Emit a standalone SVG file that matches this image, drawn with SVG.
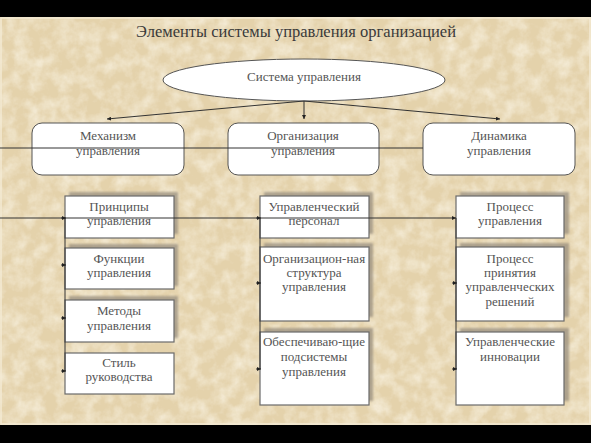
<svg xmlns="http://www.w3.org/2000/svg" width="591" height="443" viewBox="0 0 591 443">
<defs>
<filter id="paper" x="0" y="0" width="100%" height="100%">
<feTurbulence type="fractalNoise" baseFrequency="0.07" numOctaves="4" seed="7" result="n"/>
<feColorMatrix in="n" type="matrix" values="0 0 0 0 0.96  0 0 0 0 0.91  0 0 0 0 0.79  0 0 0 -1.3 0.85" result="c"/>
<feComposite in="c" in2="SourceGraphic" operator="in"/>
</filter>
<filter id="blur" x="-10%" y="-10%" width="120%" height="120%"><feGaussianBlur stdDeviation="0.8"/></filter>
<marker id="ah" viewBox="0 0 6 6" refX="6" refY="3" markerWidth="4" markerHeight="4" orient="auto" markerUnits="userSpaceOnUse"><path d="M0,0 L6,3 L0,6 z" fill="#222"/></marker>
</defs>
<style>
text{font-family:"Liberation Serif","DejaVu Serif","Times New Roman",serif}
.t{fill:#555;font-size:13px;text-anchor:middle}
.title{fill:#3a3a3a;font-size:16.5px;text-anchor:middle}
.top{fill:#fff;stroke:#555;stroke-width:1}
.box{fill:#fff;stroke:#6a6a6a;stroke-width:1.2}
.sh{fill:#9a9080;opacity:.75;filter:url(#blur)}
.ln{stroke:#333;stroke-width:1;fill:none}
</style>
<rect x="0" y="0" width="591" height="443" fill="#000"/>
<rect x="0" y="17" width="591" height="408" fill="#e4d2ab"/>
<rect x="0" y="17" width="591" height="408" fill="#e4d2ab" filter="url(#paper)"/>
<rect x="1" y="18" width="589" height="406" fill="none" stroke="#f3ead4" stroke-width="1.5"/>
<text class="title" x="296" y="37">Элементы системы управления организацией</text>

<g id="sistema">
<ellipse cx="304" cy="80" rx="141" ry="21" class="top"/>
<text class="t" x="304" y="81">Система управления</text>
</g>

<g id="mekhanizm">
<rect x="32" y="123" width="152" height="52" rx="10" class="top"/>
<text class="t" x="108" y="140">Механизм</text>
<text class="t" x="108" y="155">управления</text>
</g>
<g id="organizatsiya">
<rect x="228" y="123" width="151" height="52" rx="10" class="top"/>
<text class="t" x="303" y="140">Организация</text>
<text class="t" x="303" y="155">управления</text>
</g>
<g id="dinamika">
<rect x="423" y="123" width="152" height="52" rx="10" class="top"/>
<text class="t" x="499" y="140">Динамика</text>
<text class="t" x="499" y="155">управления</text>
</g>

<g id="printsipy">
<rect x="69" y="192" width="109" height="42" class="sh"/>
<rect x="65" y="196" width="109" height="42" class="box"/>
<text class="t" x="119" y="211">Принципы</text>
<text class="t" x="119" y="225">управления</text>
</g>
<g id="funktsii">
<rect x="69" y="244" width="109" height="42" class="sh"/>
<rect x="65" y="248" width="109" height="41" class="box"/>
<text class="t" x="119" y="263">Функции</text>
<text class="t" x="119" y="277">управления</text>
</g>
<g id="metody">
<rect x="69" y="296" width="109" height="42" class="sh"/>
<rect x="65" y="300" width="109" height="42" class="box"/>
<text class="t" x="119" y="315">Методы</text>
<text class="t" x="119" y="330">управления</text>
</g>
<g id="stil">
<rect x="65" y="353" width="109" height="41" class="box"/>
<text class="t" x="119" y="367">Стиль</text>
<text class="t" x="119" y="381">руководства</text>
</g>

<g id="personal">
<rect x="264" y="192" width="109" height="42" class="sh"/>
<rect x="260" y="196" width="109" height="42" class="box"/>
<text class="t" x="314" y="211">Управленческий</text>
<text class="t" x="314" y="225">персонал</text>
</g>
<g id="struktura">
<rect x="264" y="243" width="109" height="74" class="sh"/>
<rect x="260" y="247" width="109" height="74" class="box"/>
<text class="t" x="314" y="263">Организацион-ная</text>
<text class="t" x="314" y="277">структура</text>
<text class="t" x="314" y="291">управления</text>
</g>
<g id="podsistemy">
<rect x="264" y="328" width="109" height="73" class="sh"/>
<rect x="260" y="332" width="109" height="73" class="box"/>
<text class="t" x="314" y="346">Обеспечиваю-щие</text>
<text class="t" x="314" y="361">подсистемы</text>
<text class="t" x="314" y="376">управления</text>
</g>

<g id="protsess">
<rect x="460" y="192" width="109" height="42" class="sh"/>
<rect x="456" y="196" width="108" height="42" class="box"/>
<text class="t" x="510" y="211">Процесс</text>
<text class="t" x="510" y="225">управления</text>
</g>
<g id="resheniya">
<rect x="460" y="243" width="109" height="74" class="sh"/>
<rect x="456" y="247" width="108" height="74" class="box"/>
<text class="t" x="510" y="263">Процесс</text>
<text class="t" x="510" y="277">принятия</text>
<text class="t" x="510" y="291">управленческих</text>
<text class="t" x="510" y="306">решений</text>
</g>
<g id="innovatsii">
<rect x="460" y="328" width="109" height="73" class="sh"/>
<rect x="456" y="332" width="108" height="73" class="box"/>
<text class="t" x="510" y="346">Управленческие</text>
<text class="t" x="510" y="361">инновации</text>
</g>

<g id="connectors">
<line class="ln" x1="304" y1="101" x2="107" y2="119" marker-end="url(#ah)"/>
<line class="ln" x1="304" y1="101" x2="304" y2="119" marker-end="url(#ah)"/>
<line class="ln" x1="304" y1="101" x2="500" y2="119" marker-end="url(#ah)"/>
<line class="ln" x1="0" y1="148" x2="423" y2="148"/>
<line class="ln" x1="0" y1="218" x2="456" y2="218" marker-end="url(#ah)"/>
<path class="ln" d="M65,218 V371"/>
<path class="ln" d="M61,218 H66" marker-end="url(#ah)"/>
<path class="ln" d="M61,265 H66" marker-end="url(#ah)"/>
<path class="ln" d="M61,318 H66" marker-end="url(#ah)"/>
<path class="ln" d="M61,371 H66" marker-end="url(#ah)"/>
<path class="ln" d="M260,218 V369"/>
<path class="ln" d="M256,218 H261" marker-end="url(#ah)"/>
<path class="ln" d="M256,283 H261" marker-end="url(#ah)"/>
<path class="ln" d="M256,369 H261" marker-end="url(#ah)"/>
<path class="ln" d="M456,218 V369"/>
<path class="ln" d="M452,283 H457" marker-end="url(#ah)"/>
<path class="ln" d="M452,369 H457" marker-end="url(#ah)"/>
</g>
</svg>
